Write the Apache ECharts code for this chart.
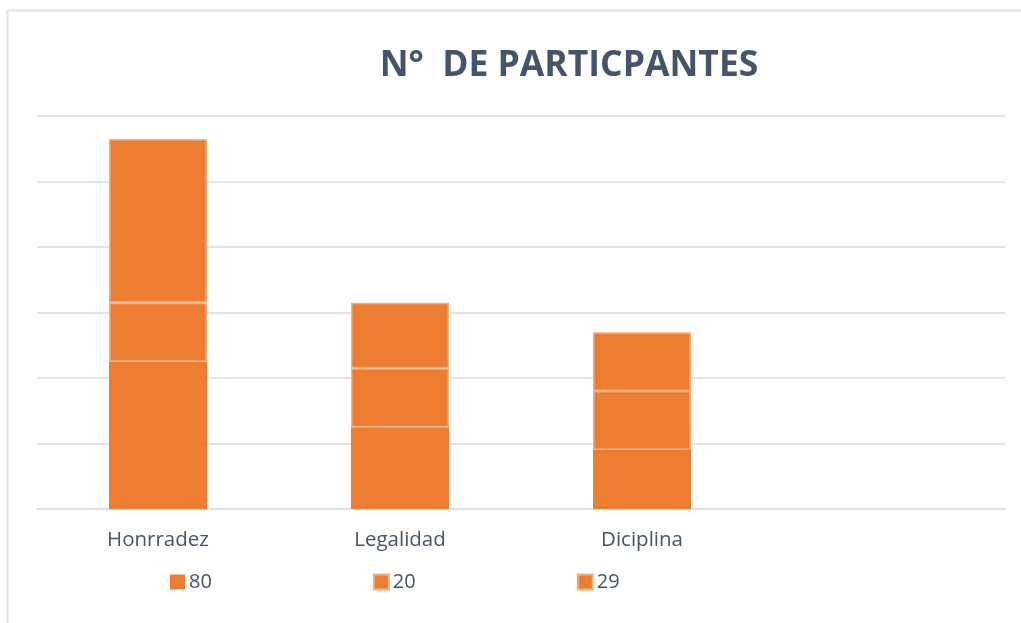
<!DOCTYPE html>
<html>
<head>
<meta charset="utf-8">
<script src="https://cdn.jsdelivr.net/npm/echarts@6/dist/echarts.min.js"></script>
<style>
html,body{margin:0;padding:0;background:#fff;}
#c{width:1021px;height:623px;}
</style>
</head>
<body>
<div id="c"></div>
<script>
var titleText = 'N°  DE PARTICPANTES';
var categories = ['Honrradez', 'Legalidad', 'Diciplina', ''];
var seriesNames = ['80', '20', '29'];
var s1 = [45, 25, 18, null];
var s2 = [18, 18, 18, null];
var s3 = [50, 20, 18, null];
var yMax = 120;
var yInterval = 20;

var chart = echarts.init(document.getElementById('c'));
var orange = '#ED7D31';
var edge = '#F4B183';
var textColor = '#44546A';
var seriesData = [s1, s2, s3];
chart.setOption({
  animation: false,
  backgroundColor: '#fff',
  title: {
    text: titleText,
    left: 564, top: 43, textAlign: 'center',
    textStyle: {fontFamily: 'Open Sans', fontWeight: 'bold', fontSize: 35.5, color: textColor}
  },
  graphic: [{
    type: 'polyline',
    shape: {points: [[7.5, 623], [7.5, 10.5], [1021, 10.5]]},
    style: {stroke: '#E0E3E8', lineWidth: 2, fill: null},
    silent: true
  }],
  legend: {
    left: 165, top: 567,
    itemWidth: 15, itemHeight: 15, itemGap: 161,
    textStyle: {fontFamily: 'Open Sans', fontSize: 20, color: textColor, padding: [0,0,0,-1]},
    data: seriesNames.map(function(n){return {name: n, icon: 'rect'};})
  },
  grid: {left: 37, right: 16, top: 116, bottom: 114, containLabel: false},
  xAxis: {
    type: 'category', data: categories,
    axisLine: {show: true, lineStyle: {color: '#DDE1E7', width: 2}},
    axisTick: {show: false},
    axisLabel: {fontFamily: 'Open Sans', fontSize: 20.5, color: textColor, margin: 21}
  },
  yAxis: {
    type: 'value', min: 0, max: yMax, interval: yInterval,
    axisLine: {show: false}, axisTick: {show: false}, axisLabel: {show: false},
    splitLine: {lineStyle: {color: '#E1E4EA', width: 2}}
  },
  series: seriesNames.map(function(n, i){
    return {
      name: n, type: 'bar', stack: 'total', data: seriesData[i],
      barWidth: '40.5%',
      itemStyle: {color: orange, borderColor: i === 0 ? orange : edge, borderWidth: i === 0 ? 0 : 1.5}
    };
  })
});
</script>
</body>
</html>
